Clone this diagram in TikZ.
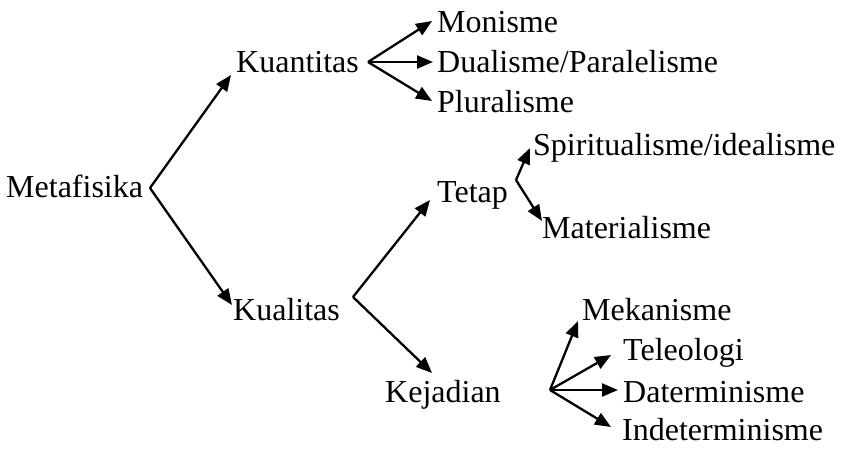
\documentclass[tikz,border=0pt]{standalone}
\usepackage{fontspec}
\setmainfont{Liberation Serif}
\usetikzlibrary{arrows.meta}
\begin{document}
\begin{tikzpicture}[x=1pt,y=-1pt,
  lbl/.style={anchor=base west,inner sep=0pt,font=\fontsize{32}{36}\selectfont},
  arr/.style={line width=2.3pt,-{Triangle[length=16pt,width=13pt]}}]
\useasboundingbox (0,0) rectangle (855,448);
% nodes
\node[lbl] (meta) at (6,197) {Metafisika};
\node[lbl] (kuan) at (236,72) {Kuantitas};
\node[lbl] (mon) at (437,32) {Monisme};
\node[lbl] (dual) at (437,72) {Dualisme/Paralelisme};
\node[lbl] (plur) at (437,112) {Pluralisme};
\node[lbl] (tetap) at (437,202) {Tetap};
\node[lbl] (spir) at (533,155) {Spiritualisme/idealisme};
\node[lbl] (mat) at (542,238) {Materialisme};
\node[lbl] (kual) at (233,320) {Kualitas};
\node[lbl] (kej) at (385,402) {Kejadian};
\node[lbl] (mek) at (582,320) {Mekanisme};
\node[lbl] (tel) at (623,360) {Teleologi};
\node[lbl] (dat) at (623,402) {Daterminisme};
\node[lbl] (ind) at (622,440) {Indeterminisme};
% fork vertices
\coordinate (v0) at (150,188);
\coordinate (v1) at (368,62);
\coordinate (v2) at (353,297);
\coordinate (v3) at (516,180);
\coordinate (v4) at (550,390);
% tips
\coordinate (t-kuan) at (231,75);
\coordinate (t-kual) at (232,305);
\coordinate (t-mon) at (432,21);
\coordinate (t-dual) at (433,62);
\coordinate (t-plur) at (432,101);
\coordinate (t-tetap) at (430,200);
\coordinate (t-kej) at (432,373);
\coordinate (t-spir) at (530,148);
\coordinate (t-mat) at (542,221);
\coordinate (t-mek) at (578,321);
\coordinate (t-tel) at (611,355);
\coordinate (t-dat) at (618,390);
\coordinate (t-ind) at (611,427);
% connectors
\draw[arr] (v0) -- (t-kuan);
\draw[arr] (v0) -- (t-kual);
\draw[arr] (v1) -- (t-mon);
\draw[arr] (v1) -- (t-dual);
\draw[arr] (v1) -- (t-plur);
\draw[arr] (v2) -- (t-tetap);
\draw[arr] (v2) -- (t-kej);
\draw[arr] (v3) -- (t-spir);
\draw[arr] (v3) -- (t-mat);
\draw[arr] (v4) -- (t-mek);
\draw[arr] (v4) -- (t-tel);
\draw[arr] (v4) -- (t-dat);
\draw[arr] (v4) -- (t-ind);
\end{tikzpicture}
\end{document}
